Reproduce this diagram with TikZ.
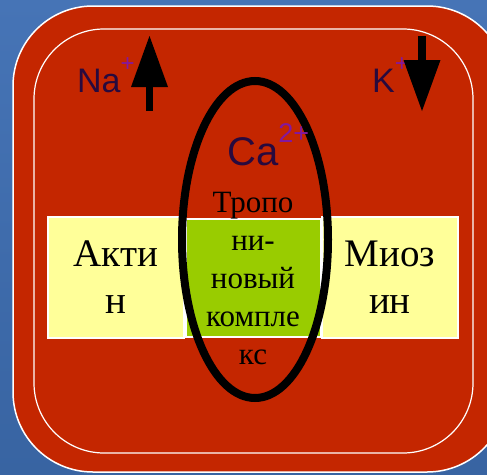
\documentclass[tikz,border=0pt]{standalone}
\usepackage{fontspec}
\setmainfont{Liberation Serif}
\newfontfamily\ionfont{Liberation Sans}
\usetikzlibrary{arrows.meta,backgrounds,shapes.geometric}

\definecolor{slide}{RGB}{70,116,182}
\definecolor{slidedark}{RGB}{56,100,162}
\definecolor{cell}{RGB}{196,38,0}
\definecolor{fibre}{RGB}{255,255,153}
\definecolor{tropo}{RGB}{153,204,0}
\definecolor{ion}{RGB}{40,10,62}
\definecolor{charge}{RGB}{130,24,160}

\begin{document}
\begin{tikzpicture}[x=1pt,y=-1pt,
    box/.style={draw=white, line width=1.2pt, inner sep=0pt, align=center},
    filament/.style={box, fill=fibre, minimum width=136pt, minimum height=121pt,
        font=\fontsize{39}{47}\selectfont},
    ion/.style={font=\ionfont\fontsize{34}{34}\selectfont, text=ion, inner sep=0pt, anchor=base west},
    charge/.style={font=\ionfont\fontsize{#1}{#1}\selectfont, text=charge},
    pump/.style={line width=7.5pt, -{Triangle[width=37pt,length=51pt,line width=0pt]}}]

    \useasboundingbox (0,0) rectangle (487,474);
    \clip (0,0) rectangle (487,474);

    \begin{scope}[on background layer]
    \shade[top color=slide, bottom color=slidedark] (0,0) rectangle (487,474);
    \end{scope}

    % cell with its membrane
    \filldraw[fill=cell, draw=white, line width=1.5pt, rounded corners=80pt] (13,6) rectangle (507,472);
    \draw[white, line width=1.2pt, rounded corners=70pt] (34,29) rectangle (473,453);

    \node[filament] (actin) at (116,277.5) {Акти\\н};
    \node[filament] (myosin) at (390,277.5) {Миоз\\ин};
    \node[box, fill=tropo, minimum width=135pt, minimum height=118pt] (tropo) at (253.5,278) {};

    \node[draw, ellipse, line width=8pt, minimum width=146pt, minimum height=317pt, inner sep=0pt] (ring) at (255,239.5) {};
    \node[align=center, inner sep=0pt, font=\fontsize{31}{38}\selectfont] (complex) at (253,278.5) {Тропо\\ни-\\новый\\компле\\кс};

    % ions
    \node[ion] (na) at (77,92) {Na\raisebox{21pt}{\tikz[baseline]\node[charge=24, inner sep=0pt, anchor=base] {+};}};
    \node[ion] (k) at (372,92) {K\raisebox{21pt}{\tikz[baseline]\node[charge=24, inner sep=0pt, anchor=base] {+};}};
    \node[ion, font=\ionfont\fontsize{40}{40}\selectfont] (ca) at (227,165) {Ca\raisebox{23pt}{\tikz[baseline]\node[charge=27, inner sep=0pt, anchor=base] {2+};}};

    \coordinate (na-in) at (149.5,111);
    \coordinate (na-out) at (149.5,36);
    \coordinate (k-out) at (422,36);
    \coordinate (k-in) at (422,111);
    \draw[pump] (na-in) -- (na-out);
    \draw[pump] (k-out) -- (k-in);
\end{tikzpicture}
\end{document}
